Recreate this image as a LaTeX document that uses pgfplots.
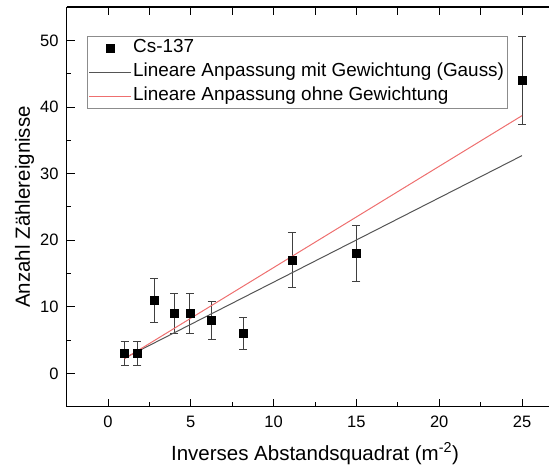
\documentclass[border=0pt]{standalone}
\usepackage{fontspec}
\setmainfont{Liberation Sans}
\usepackage{pgfplots}
\pgfplotsset{compat=1.18}
\usepackage{pgfplotstable}
\definecolor{fitgray}{HTML}{555555}
\definecolor{fitred}{HTML}{EE6F6F}
\definecolor{leggray}{HTML}{8C8C8C}
\pgfplotstableread{
x y e
1.00 3 1.73
1.78 3 1.73
2.78 11 3.32
4.00 9 3.00
4.94 9 3.00
6.25 8 2.83
8.16 6 2.45
11.11 17 4.12
15.00 18 4.24
25.00 44 6.63
}\cstable
\begin{document}
\begin{tikzpicture}
\pgfplotsset{common/.style={
  at={(66.6pt,61.3pt)}, anchor=south west,
  scale only axis, width=496.8pt, height=399.6pt,
  xmin=-2.5, xmax=27.5, ymin=-5, ymax=55,
  axis line style={line width=1.2pt, black},
  tick style={black, line width=1pt},
  major tick length=8pt, minor tick length=4.5pt,
}}
\begin{axis}[common,
  xtick={0,5,...,25}, minor xtick={2.5,7.5,...,22.5},
  ytick={0,10,...,50}, minor ytick={5,15,...,45},
  xtick pos=left, ytick pos=left,
  /pgf/number format/assume math mode=true,
  ticklabel style={font=\fontsize{16.5}{19}\selectfont},
  yticklabel style={xshift=-4.5pt},
  xticklabel style={yshift=-6pt},
  label style={font=\fontsize{20.5}{24}\selectfont},
  xlabel={Inverses Abstandsquadrat (m\textsuperscript{-2})},
  ylabel={Anzahl Zählereignisse},
  xlabel style={at={(axis description cs:0.5,-0.1334)}, anchor=base},
  ylabel style={at={(axis description cs:-0.0737,0.5)}, anchor=base},
  legend image code/.code={\draw[mark repeat=2,mark phase=2,#1] plot coordinates {(0pt,0pt) (21pt,0pt) (42pt,0pt)};},
  legend cell align=left,
  legend style={at={(0.0405,0.9277)}, anchor=north west, draw=leggray, line width=0.9pt,
    font=\fontsize{18.9}{22}\selectfont, inner xsep=1.5pt, inner ysep=0pt,
    nodes={inner ysep=2.5pt, inner xsep=1.5pt, text height=14pt, text depth=5pt},
    /tikz/every even column/.append style={column sep=6.5pt}},
]
\addplot+[only marks, mark=square*, mark size=4pt, black, mark options={fill=black},
  error bars/.cd, y dir=both, y explicit,
  error bar style={line width=0.8pt, color=black!75},
  error mark options={rotate=90, mark size=4pt, line width=0.8pt, color=black!75}]
  table[x=x, y=y, y error=e] {\cstable};
\addlegendentry{Cs-137}
\addplot[color=fitgray, line width=1pt] coordinates {(1,2.3) (25,32.7)};
\addlegendentry{Lineare Anpassung mit Gewichtung (Gauss)}
\addplot[color=fitred, line width=1pt] coordinates {(1,2.2) (25,38.7)};
\addlegendentry{Lineare Anpassung ohne Gewichtung}
\end{axis}
\begin{axis}[common, axis x line*=top, axis y line=none,
  xtick={0,2.5,...,25}, xticklabels={}]
\end{axis}
\pgfresetboundingbox
\path (0,0) rectangle (549pt,468pt);
\end{tikzpicture}
\end{document}
